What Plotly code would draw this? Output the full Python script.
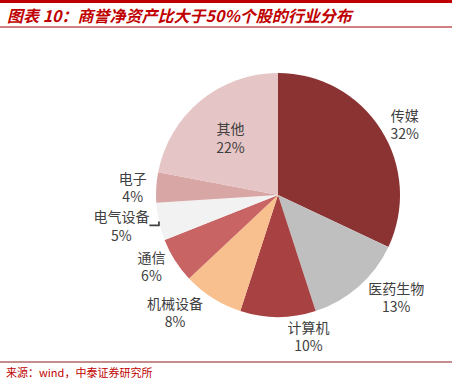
import plotly.graph_objects as go

labels = ["传媒", "医药生物", "计算机", "机械设备", "通信", "电气设备", "电子", "其他"]
values = [32, 13, 10, 8, 6, 5, 4, 22]
colors = ["#8B3333", "#BFBFBF", "#A84242", "#F8C08F", "#C96464", "#F2F2F2", "#D9A6A6", "#E6C5C6"]
positions = ["outside", "outside", "outside", "outside", "outside", "outside", "outside", "inside"]

W, H = 452, 381
cx, cy, r = 278, 195, 122

fig = go.Figure(go.Pie(
    labels=labels,
    values=values,
    sort=False,
    direction="clockwise",
    rotation=0,
    marker=dict(colors=colors, line=dict(width=0)),
    texttemplate="%{label}<br>%{value}%",
    textposition=positions,
    textfont=dict(family="Noto Sans CJK SC", size=14, color="#404040"),
    insidetextorientation="horizontal",
    hoverinfo="label+percent",
    showlegend=False,
    domain=dict(x=[(cx - r) / W, (cx + r) / W], y=[1 - (cy + r) / H, 1 - (cy - r) / H]),
    automargin=False,
))

fig.update_layout(
    width=W, height=H,
    margin=dict(l=0, r=0, t=0, b=0),
    paper_bgcolor="white",
    plot_bgcolor="white",
    shapes=[
        dict(type="rect", xref="paper", yref="paper", x0=0, x1=1, y0=1 - 3 / H, y1=1,
             fillcolor="#C00000", line=dict(width=0)),
        dict(type="line", xref="paper", yref="paper", x0=0, x1=1, y0=1 - 27 / H, y1=1 - 27 / H,
             line=dict(color="#A00000", width=1)),
        dict(type="line", xref="paper", yref="paper", x0=0, x1=1, y0=1 - 362 / H, y1=1 - 362 / H,
             line=dict(color="#8B1A1A", width=1)),
    ],
    annotations=[
        dict(text="<b><i>图表 10：商誉净资产比大于50%个股的行业分布</i></b>", xref="paper", yref="paper",
             x=5 / W, y=1 - 15 / H, xanchor="left", yanchor="middle", showarrow=False,
             font=dict(family="Noto Sans CJK SC", size=16, color="#C00000")),
        dict(text="来源：wind，中泰证券研究所", xref="paper", yref="paper",
             x=4 / W, y=1 - 372 / H, xanchor="left", yanchor="middle", showarrow=False,
             font=dict(family="Noto Sans CJK SC", size=11, color="#C00000")),
    ],
)

fig.write_html("out.html", config={"displayModeBar": False},
               post_script="document.body.style.margin='0';document.body.style.overflow='hidden';")
